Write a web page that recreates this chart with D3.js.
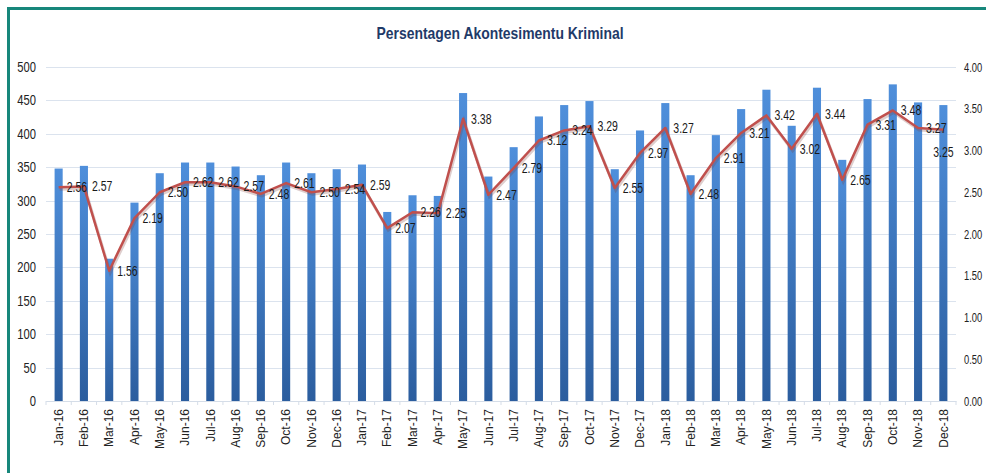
<!DOCTYPE html>
<html lang="en">
<head>
<meta charset="UTF-8">
<script src="https://d3js.org/d3.v7.min.js"></script>
<title>Persentagen Akontesimentu Kriminal</title>
<style>
    body { margin: 0; background: #fff; }
    svg { display: block; }
</style>
</head>
<body>
<div id="chart"></div>
<script>
    // months shown on the x axis
    const months = [
        "Jan-16", "Feb-16", "Mar-16", "Apr-16", "May-16", "Jun-16", "Jul-16", "Aug-16", "Sep-16", "Oct-16", "Nov-16", "Dec-16",
        "Jan-17", "Feb-17", "Mar-17", "Apr-17", "May-17", "Jun-17", "Jul-17", "Aug-17", "Sep-17", "Oct-17", "Nov-17", "Dec-17",
        "Jan-18", "Feb-18", "Mar-18", "Apr-18", "May-18", "Jun-18", "Jul-18", "Aug-18", "Sep-18", "Oct-18", "Nov-18", "Dec-18"
    ];

    // bar values (left axis)
    const counts = [
        348, 352, 213, 297, 341, 357, 357, 351, 338, 357, 341, 347,
        354, 283, 308, 307, 461, 336, 380, 426, 443, 449, 347, 405,
        446, 338, 398, 437, 466, 412, 469, 361, 452, 474, 447, 443
    ];

    // percentage line (right axis)
    const percents = [
        2.56, 2.57, 1.56, 2.19, 2.50, 2.62, 2.62, 2.57, 2.48, 2.61, 2.50, 2.54,
        2.59, 2.07, 2.26, 2.25, 3.38, 2.47, 2.79, 3.12, 3.24, 3.29, 2.55, 2.97,
        3.27, 2.48, 2.91, 3.21, 3.42, 3.02, 3.44, 2.65, 3.31, 3.48, 3.27, 3.25
    ];

    const leftTicks = [0, 50, 100, 150, 200, 250, 300, 350, 400, 450, 500];
    const rightTicks = [0, 0.5, 1, 1.5, 2, 2.5, 3, 3.5, 4];

    const width = 986, height = 473;
    const plot = { left: 46, right: 956, top: 67, bottom: 401 };
    const sans = "'Liberation Sans', Arial, sans-serif";

    // squeeze text horizontally so it looks like the narrow Office font
    function condense(sel, factor) {
        sel.each(function () {
            const len = this.getComputedTextLength();
            d3.select(this)
                .attr("textLength", len * factor)
                .attr("lengthAdjust", "spacingAndGlyphs");
        });
    }

    const svg = d3.select("#chart").append("svg")
        .attr("width", width)
        .attr("height", height);

    // teal frame (top and left edges)
    svg.append("line").attr("x1", 8).attr("x2", width).attr("y1", 8.5).attr("y2", 8.5)
        .attr("stroke", "#17877b").attr("stroke-width", 3);
    svg.append("line").attr("x1", 8.5).attr("x2", 8.5).attr("y1", 7).attr("y2", height)
        .attr("stroke", "#17877b").attr("stroke-width", 3);

    // title
    svg.append("text")
        .attr("x", 500)
        .attr("y", 39)
        .attr("text-anchor", "middle")
        .attr("textLength", 247)
        .attr("lengthAdjust", "spacingAndGlyphs")
        .style("font-family", sans)
        .style("font-size", "17px")
        .style("font-weight", "bold")
        .style("fill", "#1f3a68")
        .text("Persentagen Akontesimentu Kriminal");

    const x = d3.scaleBand()
        .domain(months)
        .range([plot.left, plot.right])
        .paddingInner(0.68)
        .paddingOuter(0.34);

    const yLeft = d3.scaleLinear().domain([0, 500]).range([plot.bottom, plot.top]);
    const yRight = d3.scaleLinear().domain([0, 4]).range([plot.bottom, plot.top]);

    // gridlines
    svg.append("g")
        .selectAll("line")
        .data(leftTicks)
        .enter()
        .append("line")
        .attr("x1", plot.left)
        .attr("x2", plot.right)
        .attr("y1", d => Math.round(yLeft(d)) + 0.5)
        .attr("y2", d => Math.round(yLeft(d)) + 0.5)
        .attr("stroke", "#dbe3ee")
        .attr("stroke-width", 1);

    // left axis
    const leftAxis = svg.append("g")
        .attr("transform", `translate(${plot.left},0)`)
        .call(d3.axisLeft(yLeft).tickValues(leftTicks).tickSize(0).tickPadding(10));
    leftAxis.select(".domain").remove();
    leftAxis.selectAll("text")
        .style("font-family", sans)
        .style("font-size", "14px")
        .style("fill", "#222")
        .call(condense, 0.8);

    // right axis (scaled narrow with a transform so the box stays inside the page)
    const rightScaleX = 0.72;
    const rightAxis = svg.append("g")
        .attr("transform", `translate(${plot.right},0)`)
        .call(d3.axisRight(yRight).tickValues(rightTicks).tickSize(0).tickFormat(d3.format(".2f")));
    rightAxis.select(".domain").remove();
    rightAxis.selectAll("text")
        .attr("x", 8 / rightScaleX)
        .attr("transform", `scale(${rightScaleX},1)`)
        .style("font-family", sans)
        .style("font-size", "13px")
        .style("fill", "#222");

    // bar gradient
    const defs = svg.append("defs");
    const grad = defs.append("linearGradient")
        .attr("id", "barGrad")
        .attr("x1", 0).attr("y1", 0).attr("x2", 0).attr("y2", 1);
    grad.append("stop").attr("offset", "0%").attr("stop-color", "#4f8fdb");
    grad.append("stop").attr("offset", "100%").attr("stop-color", "#2b5d9e");

    // bars
    svg.append("g")
        .selectAll("rect")
        .data(counts)
        .enter()
        .append("rect")
        .attr("x", (d, i) => x(months[i]))
        .attr("y", d => yLeft(d))
        .attr("width", x.bandwidth())
        .attr("height", d => plot.bottom - yLeft(d))
        .attr("fill", "url(#barGrad)");

    // x axis baseline and labels
    const xAxis = svg.append("g")
        .attr("transform", `translate(0,${plot.bottom})`)
        .call(d3.axisBottom(x).tickSize(0));
    xAxis.select(".domain")
        .attr("stroke", "#d5dde8");
    xAxis.selectAll("text")
        .attr("transform", "rotate(-90)")
        .attr("text-anchor", "end")
        .attr("x", -8)
        .attr("y", 0)
        .attr("dy", "0.35em")
        .style("font-family", sans)
        .style("font-size", "12px")
        .style("fill", "#222");

    // small tick marks between categories
    svg.append("g")
        .selectAll("line")
        .data(months.concat(["end"]))
        .enter()
        .append("line")
        .attr("x1", (d, i) => plot.left + i * x.step())
        .attr("x2", (d, i) => plot.left + i * x.step())
        .attr("y1", plot.bottom)
        .attr("y2", plot.bottom + 4)
        .attr("stroke", "#d5dde8");

    // percentage line
    const cx = i => x(months[i]) + x.bandwidth() / 2;
    const line = d3.line()
        .x((d, i) => cx(i))
        .y(d => yRight(d));

    svg.append("path")
        .datum(percents)
        .attr("d", line)
        .attr("fill", "none")
        .attr("stroke", "#7a3a38")
        .attr("stroke-opacity", 0.25)
        .attr("stroke-width", 3)
        .attr("transform", "translate(1,2)");

    svg.append("path")
        .datum(percents)
        .attr("d", line)
        .attr("fill", "none")
        .attr("stroke", "#c0504d")
        .attr("stroke-width", 2.5)
        .attr("stroke-linejoin", "round");

    // data labels: right of each point, the last one sits below its point
    const last = percents.length - 1;
    svg.append("g")
        .selectAll("text")
        .data(percents)
        .enter()
        .append("text")
        .attr("x", (d, i) => i === last ? cx(i) : cx(i) + 8)
        .attr("y", (d, i) => i === last ? yRight(d) + 22 : yRight(d))
        .attr("dy", "0.35em")
        .attr("text-anchor", (d, i) => i === last ? "middle" : "start")
        .style("font-family", sans)
        .style("font-size", "14px")
        .style("fill", "#1a1a1a")
        .text(d => d3.format(".2f")(d))
        .call(condense, 0.75);
</script>
</body>
</html>
